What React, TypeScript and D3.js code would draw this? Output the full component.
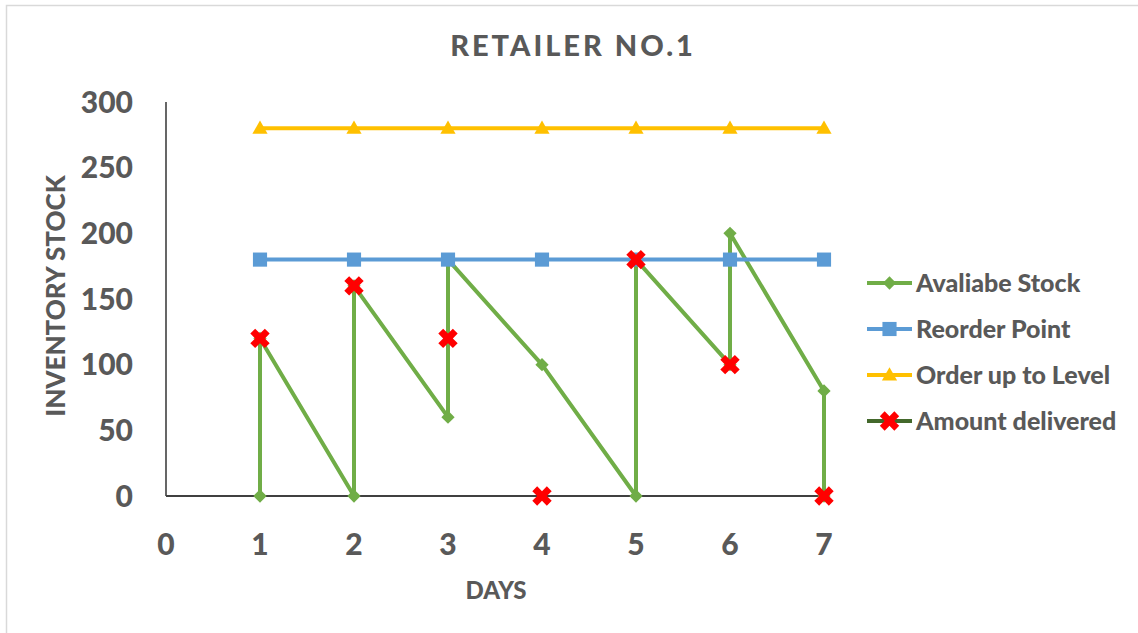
import React from "react";
import * as d3 from "d3";

// Axis ticks
const xTicks = [0, 1, 2, 3, 4, 5, 6, 7];
const yTicks = [0, 50, 100, 150, 200, 250, 300];

// Available stock: drops during the day, jumps when a delivery arrives
const stockDays = [1, 1, 2, 2, 3, 3, 4, 5, 5, 6, 6, 7, 7];
const stockLevels = [0, 120, 0, 160, 60, 180, 100, 0, 180, 100, 200, 80, 0];

// Policy levels per day
const policyDays = [1, 2, 3, 4, 5, 6, 7];
const reorderPoint = [180, 180, 180, 180, 180, 180, 180];
const orderUpToLevel = [280, 280, 280, 280, 280, 280, 280];

// Deliveries per day
const deliveryDays = [1, 2, 3, 4, 5, 6, 7];
const amountDelivered = [120, 160, 120, 0, 180, 100, 0];

const seriesNames = ["Avaliabe Stock", "Reorder Point", "Order up to Level", "Amount delivered"];

const W = 1138;
const H = 633;
const TEXT = "#595959";
const FONT = "Lato, 'Open Sans', sans-serif";
const WEIGHT = 900;
const GREEN = "#70AD47";
const BLUE = "#5B9BD5";
const GOLD = "#FFC000";
const RED = "#FF0000";
const DARK_GREEN = "#43682B";

const x = d3.scaleLinear().domain([0, 7]).range([166, 824]);
const y = d3.scaleLinear().domain([0, 300]).range([496, 102]);

const line = d3
  .line<[number, number]>()
  .x((d) => x(d[0]))
  .y((d) => y(d[1]));

const zip = (a: number[], b: number[]): [number, number][] => a.map((v, i) => [v, b[i]]);

const diamondPath = d3.symbol(d3.symbolSquare, 88)()!;
const squarePath = d3.symbol(d3.symbolSquare, 200)()!;
const trianglePath = d3.symbol(d3.symbolTriangle, 100)()!;
const crossPath = d3.symbol(d3.symbolCross, 235)()!;

type MarkerKind = "diamond" | "square" | "triangle" | "x";

function Marker({ kind, cx, cy, color }: { kind: MarkerKind; cx: number; cy: number; color: string }) {
  if (kind === "diamond")
    return <path d={diamondPath} fill={color} transform={`translate(${cx},${cy}) rotate(45)`} />;
  if (kind === "square") return <path d={squarePath} fill={color} transform={`translate(${cx},${cy})`} />;
  if (kind === "triangle") return <path d={trianglePath} fill={color} transform={`translate(${cx},${cy + 1})`} />;
  return <path d={crossPath} fill={color} transform={`translate(${cx},${cy}) rotate(45)`} />;
}

const series: { pts: [number, number][]; color: string; marker: MarkerKind; showLine: boolean; legendLine: string }[] = [
  { pts: zip(stockDays, stockLevels), color: GREEN, marker: "diamond", showLine: true, legendLine: GREEN },
  { pts: zip(policyDays, reorderPoint), color: BLUE, marker: "square", showLine: true, legendLine: BLUE },
  { pts: zip(policyDays, orderUpToLevel), color: GOLD, marker: "triangle", showLine: true, legendLine: GOLD },
  { pts: zip(deliveryDays, amountDelivered), color: RED, marker: "x", showLine: false, legendLine: DARK_GREEN },
];

const legendRows = [283, 329, 375, 421];

export default function App() {
  return (
    <svg
      width={W}
      height={H}
      viewBox={`0 0 ${W} ${H}`}
      style={{ position: "absolute", left: 0, top: 0, background: "#fff" }}
      fontFamily={FONT}
    >
      <rect x={0} y={0} width={W} height={H} fill="#fff" />
      <rect x={6.5} y={5.5} width={W + 20} height={H + 20} fill="none" stroke="#D9D9D9" strokeWidth={1.5} />

      {/* Title */}
      <text x={573} y={56} textAnchor="middle" fontSize={29} fontWeight={WEIGHT} fill={TEXT} letterSpacing={3}>
        RETAILER NO.1
      </text>

      {/* Y axis */}
      <line x1={x(0)} x2={x(0)} y1={y(300)} y2={y(0)} stroke="#000" strokeWidth={1.2} />
      {yTicks.map((t) => (
        <text key={t} x={133} y={y(t)} dy="0.36em" textAnchor="end" fontSize={30} fontWeight={WEIGHT} fill={TEXT}>
          {t}
        </text>
      ))}
      <text
        transform={`translate(65,296) rotate(-90)`}
        textAnchor="middle"
        fontSize={26}
        fontWeight={WEIGHT}
        fill={TEXT}
      >
        INVENTORY STOCK
      </text>

      {/* X axis */}
      <line x1={x(0)} x2={x(7)} y1={y(0)} y2={y(0)} stroke="#404040" strokeWidth={2} />
      {xTicks.map((t) => (
        <text key={t} x={x(t)} y={555} textAnchor="middle" fontSize={30} fontWeight={WEIGHT} fill={TEXT}>
          {t}
        </text>
      ))}
      <text x={496} y={599} textAnchor="middle" fontSize={24} fontWeight={WEIGHT} fill={TEXT}>
        DAYS
      </text>

      {/* Series */}
      {series.map((s, i) => (
        <g key={i}>
          {s.showLine && (
            <path d={line(s.pts)!} fill="none" stroke={s.color} strokeWidth={4} strokeLinejoin="round" />
          )}
          {s.pts.map((p, j) => (
            <Marker key={j} kind={s.marker} cx={x(p[0])} cy={y(p[1])} color={s.color} />
          ))}
        </g>
      ))}

      {/* Legend */}
      {series.map((s, i) => (
        <g key={i} transform={`translate(0,${legendRows[i]})`}>
          <line x1={867} x2={912} y1={0} y2={0} stroke={s.legendLine} strokeWidth={4} />
          <Marker kind={s.marker} cx={889.5} cy={0} color={s.color} />
          <text x={916} y={0} dy="0.36em" fontSize={25} fontWeight={WEIGHT} fill={TEXT}>
            {seriesNames[i]}
          </text>
        </g>
      ))}
    </svg>
  );
}
